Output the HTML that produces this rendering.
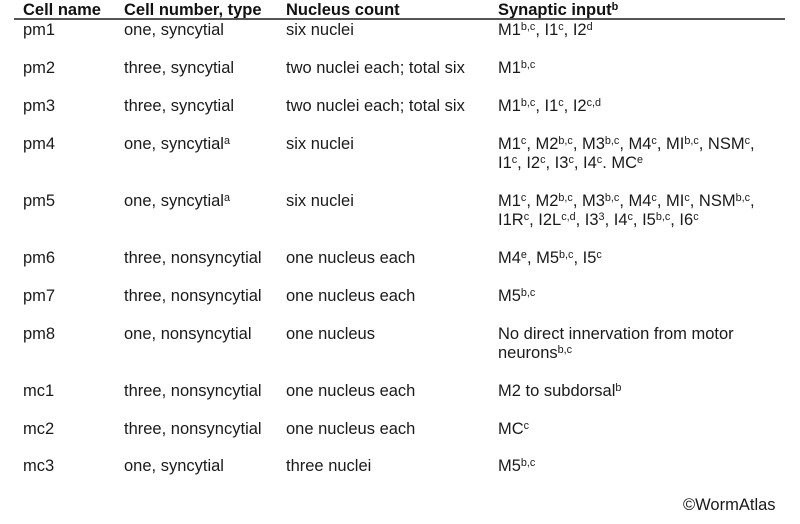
<!DOCTYPE html>
<html><head><meta charset="utf-8"><title>Pharyngeal muscle table</title>
<style>
html,body{margin:0;padding:0;background:#fff}
#t{position:relative;width:800px;height:524px;overflow:hidden;font-family:"Liberation Sans",sans-serif;font-size:16.5px;line-height:19px;color:#1a1a1a}
#t div{position:absolute;white-space:nowrap}
#t .h{font-weight:bold;color:#111}
sup{font-size:10.8px;line-height:0;vertical-align:baseline;position:relative;top:-5px}
#rule{left:14px;top:18px;width:771px;height:2px;background:#555}
</style></head><body>
<div id="t">
<div class="h" style="left:23px;top:1px">Cell name</div>
<div class="h" style="left:124px;top:1px">Cell number, type</div>
<div class="h" style="left:286px;top:1px">Nucleus count</div>
<div class="h" style="left:498px;top:1px">Synaptic input<sup>b</sup></div>
<div id="rule"></div>

<div style="left:23px;top:21px">pm1</div>
<div style="left:124px;top:21px">one, syncytial</div>
<div style="left:286px;top:21px">six nuclei</div>
<div style="left:498px;top:21px">M1<sup>b,c</sup>, I1<sup>c</sup>, I2<sup>d</sup></div>

<div style="left:23px;top:59px">pm2</div>
<div style="left:124px;top:59px">three, syncytial</div>
<div style="left:286px;top:59px">two nuclei each; total six</div>
<div style="left:498px;top:59px">M1<sup>b,c</sup></div>

<div style="left:23px;top:97px">pm3</div>
<div style="left:124px;top:97px">three, syncytial</div>
<div style="left:286px;top:97px">two nuclei each; total six</div>
<div style="left:498px;top:97px">M1<sup>b,c</sup>, I1<sup>c</sup>, I2<sup>c,d</sup></div>

<div style="left:23px;top:135px">pm4</div>
<div style="left:124px;top:135px">one, syncytial<sup>a</sup></div>
<div style="left:286px;top:135px">six nuclei</div>
<div style="left:498px;top:135px">M1<sup>c</sup>, M2<sup>b,c</sup>, M3<sup>b,c</sup>, M4<sup>c</sup>, MI<sup>b,c</sup>, NSM<sup>c</sup>,<br>I1<sup>c</sup>, I2<sup>c</sup>, I3<sup>c</sup>, I4<sup>c</sup>. MC<sup>e</sup></div>

<div style="left:23px;top:192px">pm5</div>
<div style="left:124px;top:192px">one, syncytial<sup>a</sup></div>
<div style="left:286px;top:192px">six nuclei</div>
<div style="left:498px;top:192px">M1<sup>c</sup>, M2<sup>b,c</sup>, M3<sup>b,c</sup>, M4<sup>c</sup>, MI<sup>c</sup>, NSM<sup>b,c</sup>,<br>I1R<sup>c</sup>, I2L<sup>c,d</sup>, I3<sup>3</sup>, I4<sup>c</sup>, I5<sup>b,c</sup>, I6<sup>c</sup></div>

<div style="left:23px;top:249px">pm6</div>
<div style="left:124px;top:249px">three, nonsyncytial</div>
<div style="left:286px;top:249px">one nucleus each</div>
<div style="left:498px;top:249px">M4<sup>e</sup>, M5<sup>b,c</sup>, I5<sup>c</sup></div>

<div style="left:23px;top:287px">pm7</div>
<div style="left:124px;top:287px">three, nonsyncytial</div>
<div style="left:286px;top:287px">one nucleus each</div>
<div style="left:498px;top:287px">M5<sup>b,c</sup></div>

<div style="left:23px;top:325px">pm8</div>
<div style="left:124px;top:325px">one, nonsyncytial</div>
<div style="left:286px;top:325px">one nucleus</div>
<div style="left:498px;top:325px">No direct innervation from motor<br>neurons<sup>b,c</sup></div>

<div style="left:23px;top:382px">mc1</div>
<div style="left:124px;top:382px">three, nonsyncytial</div>
<div style="left:286px;top:382px">one nucleus each</div>
<div style="left:498px;top:382px">M2 to subdorsal<sup>b</sup></div>

<div style="left:23px;top:420px">mc2</div>
<div style="left:124px;top:420px">three, nonsyncytial</div>
<div style="left:286px;top:420px">one nucleus each</div>
<div style="left:498px;top:420px">MC<sup>c</sup></div>

<div style="left:23px;top:457px">mc3</div>
<div style="left:124px;top:457px">one, syncytial</div>
<div style="left:286px;top:457px">three nuclei</div>
<div style="left:498px;top:457px">M5<sup>b,c</sup></div>

<div style="left:683px;top:496px">©WormAtlas</div>
</div>
</body></html>
